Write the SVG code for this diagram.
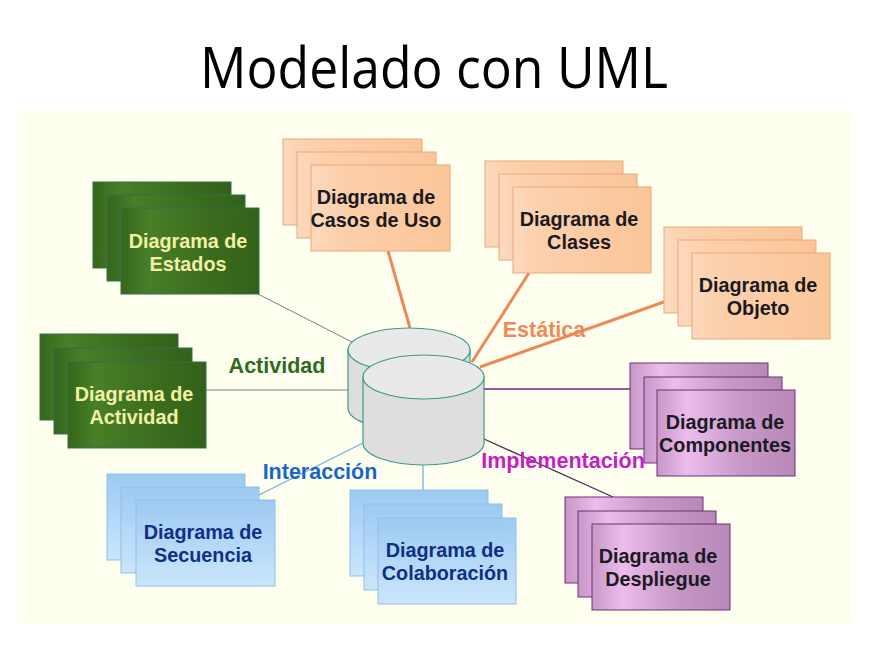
<svg xmlns="http://www.w3.org/2000/svg" width="879" height="656" viewBox="0 0 879 656">
<defs>
<linearGradient id="gOr" x1="0" y1="0" x2="1" y2="0"><stop offset="0" stop-color="#fcd9bd"/><stop offset="0.2" stop-color="#fcd0ad"/><stop offset="1" stop-color="#fbc598"/></linearGradient>
<linearGradient id="gGr" x1="0" y1="0" x2="1" y2="0"><stop offset="0" stop-color="#36661a"/><stop offset="0.2" stop-color="#487f28"/><stop offset="0.6" stop-color="#3c6e1e"/><stop offset="1" stop-color="#33611a"/></linearGradient>
<linearGradient id="gPu" x1="0" y1="0" x2="1" y2="0"><stop offset="0" stop-color="#c896c8"/><stop offset="0.22" stop-color="#ecbcec"/><stop offset="0.6" stop-color="#c898c8"/><stop offset="1" stop-color="#b888b8"/></linearGradient>
<linearGradient id="gBl" x1="0" y1="0" x2="0" y2="1"><stop offset="0" stop-color="#9ccaf2"/><stop offset="1" stop-color="#cce6fb"/></linearGradient>
<style>
.or{fill:url(#gOr);stroke:#eaa878;stroke-width:1}
.gr{fill:url(#gGr);stroke:#2f7050;stroke-width:1}
.pu{fill:url(#gPu);stroke:#6a3270;stroke-width:1}
.bl{fill:url(#gBl);stroke:#8cc0e8;stroke-width:1}
.t{font-family:"Liberation Sans",Arial,sans-serif;font-weight:bold;font-size:19.8px;text-anchor:middle}
.td{fill:#1a1a22}
.tg{fill:#f3f0a6}
.tb{fill:#0e2f86}
.lbl{font-family:"Liberation Sans",Arial,sans-serif;font-weight:bold;font-size:21.5px;text-anchor:middle}
.cyl{fill:#dedede;stroke:#3c9a84;stroke-width:1.2}
.cyt{fill:#e9e9e9;stroke:#3c9a84;stroke-width:1.2}
</style>
</defs>
<rect x="0" y="0" width="879" height="656" fill="#ffffff"/>
<rect x="18" y="110" width="835" height="515" fill="#fffff0"/>
<text x="434" y="88" font-family="'Open Sans','Liberation Sans',sans-serif" font-size="56" text-anchor="middle" fill="#000" textLength="468" lengthAdjust="spacingAndGlyphs">Modelado con UML</text>

<g id="connectors">
<line x1="256" y1="293" x2="352" y2="342" stroke="#808080" stroke-width="1"/>
<line x1="205" y1="390" x2="349" y2="390" stroke="#808080" stroke-width="1"/>
<line x1="388" y1="251" x2="410" y2="328" stroke="#ef8858" stroke-width="3"/>
<line x1="529" y1="273" x2="472" y2="362" stroke="#ef8858" stroke-width="3"/>
<line x1="692" y1="292" x2="480" y2="367" stroke="#ef8858" stroke-width="3"/>
<line x1="484" y1="389" x2="630" y2="389" stroke="#9a5aa0" stroke-width="2"/>
<line x1="484" y1="439" x2="613" y2="497" stroke="#4a2a58" stroke-width="1.3"/>
<line x1="257" y1="496" x2="363" y2="443" stroke="#7aaed8" stroke-width="1.3"/>
<line x1="423" y1="465" x2="423" y2="490" stroke="#7aaed8" stroke-width="1.3"/>
</g>

<g id="repository">
<path class="cyl" d="M348,350 L348,408 A61,22 0 0 0 470,408 L470,350 Z"/>
<ellipse class="cyt" cx="409" cy="350" rx="61" ry="22"/>
<path class="cyl" d="M363,377 L363,443 A60.5,22 0 0 0 484,443 L484,377 Z"/>
<ellipse class="cyt" cx="423.5" cy="377" rx="60.5" ry="22"/>
</g>

<g id="labels">
<text class="lbl" x="277" y="373" fill="#2f6a1e">Actividad</text>
<text class="lbl" x="544" y="337" fill="#ef8858">Estática</text>
<text class="lbl" x="320" y="479" fill="#1866c8">Interacción</text>
<text class="lbl" x="563" y="468" fill="#c51ec8">Implementación</text>
</g>

<g id="casos">
<rect class="or" x="283" y="139" width="139" height="86"/>
<rect class="or" x="297" y="152" width="139" height="86"/>
<rect class="or" x="311" y="165" width="139" height="86"/>
<text class="t td" x="376" y="204">Diagrama de</text>
<text class="t td" x="376" y="227">Casos de Uso</text>
</g>

<g id="clases">
<rect class="or" x="485" y="161" width="138" height="86"/>
<rect class="or" x="499" y="174" width="138" height="86"/>
<rect class="or" x="513" y="187" width="138" height="86"/>
<text class="t td" x="579" y="226">Diagrama de</text>
<text class="t td" x="579" y="249">Clases</text>
</g>

<g id="objeto">
<rect class="or" x="664" y="227" width="138" height="86"/>
<rect class="or" x="678" y="240" width="138" height="86"/>
<rect class="or" x="692" y="253" width="138" height="86"/>
<text class="t td" x="758" y="292">Diagrama de</text>
<text class="t td" x="758" y="315">Objeto</text>
</g>

<g id="estados">
<rect class="gr" x="93" y="182" width="138" height="86"/>
<rect class="gr" x="107" y="195" width="138" height="86"/>
<rect class="gr" x="121" y="208" width="138" height="86"/>
<text class="t tg" x="188" y="248">Diagrama de</text>
<text class="t tg" x="188" y="271">Estados</text>
</g>

<g id="actividad">
<rect class="gr" x="40" y="334" width="138" height="86"/>
<rect class="gr" x="54" y="348" width="138" height="86"/>
<rect class="gr" x="68" y="362" width="138" height="86"/>
<text class="t tg" x="134" y="401">Diagrama de</text>
<text class="t tg" x="134" y="424">Actividad</text>
</g>

<g id="componentes">
<rect class="pu" x="630" y="363" width="138" height="86"/>
<rect class="pu" x="644" y="377" width="138" height="86"/>
<rect class="pu" x="657" y="390" width="138" height="86"/>
<text class="t td" x="725" y="429">Diagrama de</text>
<text class="t td" x="725" y="452">Componentes</text>
</g>

<g id="despliegue">
<rect class="pu" x="565" y="497" width="138" height="86"/>
<rect class="pu" x="578" y="511" width="138" height="86"/>
<rect class="pu" x="592" y="524" width="138" height="86"/>
<text class="t td" x="658" y="563">Diagrama de</text>
<text class="t td" x="658" y="586">Despliegue</text>
</g>

<g id="secuencia">
<rect class="bl" x="107" y="474" width="138" height="86"/>
<rect class="bl" x="121" y="487" width="138" height="86"/>
<rect class="bl" x="136" y="500" width="139" height="86"/>
<text class="t tb" x="203" y="539">Diagrama de</text>
<text class="t tb" x="203" y="562">Secuencia</text>
</g>

<g id="colaboracion">
<rect class="bl" x="350" y="490" width="138" height="86"/>
<rect class="bl" x="364" y="504" width="138" height="86"/>
<rect class="bl" x="378" y="518" width="138" height="86"/>
<text class="t tb" x="445" y="557">Diagrama de</text>
<text class="t tb" x="445" y="580">Colaboración</text>
</g>
</svg>
